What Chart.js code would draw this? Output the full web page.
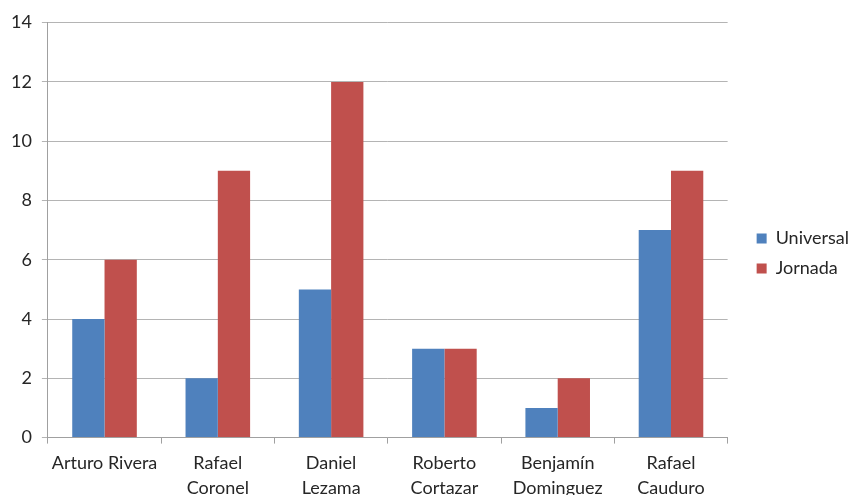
<!DOCTYPE html>
<html>
<head>
<meta charset="utf-8">
<script src="https://cdn.jsdelivr.net/npm/chart.js@4/dist/chart.umd.min.js"></script>
<style>
  html, body { margin: 0; padding: 0; background: #fff; }
  #wrap { width: 854px; height: 495px; }
</style>
</head>
<body>
<div id="wrap"><canvas id="c" width="854" height="495"></canvas></div>
<script>
// Names (two-line labels) and counts per newspaper
const categories = [
  ['Arturo Rivera'],
  ['Rafael', 'Coronel'],
  ['Daniel', 'Lezama'],
  ['Roberto', 'Cortazar'],
  ['Benjamín', 'Dominguez'],
  ['Rafael', 'Cauduro']
];
const universal = [4, 2, 5, 3, 1, 7];
const jornada = [6, 9, 12, 3, 2, 9];
const yTicks = [0, 2, 4, 6, 8, 10, 12, 14];

const FONT = { family: 'Lato, "Open Sans", sans-serif', size: 18, lineHeight: 1.4 };
const TEXT = '#262626';

// Nudge the legend: wider gap from the plot, slightly higher
const LEGEND_DX = 17;
const LEGEND_DY = -8;
const legendShift = {
  id: 'legendShift',
  afterLayout(chart) {
    const l = chart.legend;
    if (!l) return;
    l.left += LEGEND_DX;
    l.right += LEGEND_DX;
    l.top += LEGEND_DY;
    l.bottom += LEGEND_DY;
    (l.legendHitBoxes || []).forEach(h => { h.left += LEGEND_DX; h.top += LEGEND_DY; });
  }
};

new Chart(document.getElementById('c'), {
  type: 'bar',
  data: {
    labels: categories,
    datasets: [
      { label: 'Universal', data: universal, backgroundColor: '#4F81BD',
        barPercentage: 1.0, categoryPercentage: 0.57 },
      { label: 'Jornada', data: jornada, backgroundColor: '#C0504D',
        barPercentage: 1.0, categoryPercentage: 0.57 }
    ]
  },
  plugins: [legendShift],
  options: {
    responsive: false,
    animation: false,
    devicePixelRatio: 1,
    layout: { padding: { top: 15, left: 1, right: 12, bottom: -13 } },
    plugins: {
      legend: {
        position: 'right',
        labels: {
          font: FONT, color: TEXT,
          boxWidth: 10, boxHeight: 10, padding: 12
        }
      },
      tooltip: { enabled: false }
    },
    scales: {
      x: {
        offset: true,
        grid: { offset: true, drawOnChartArea: false, drawTicks: true, tickLength: 6, color: '#A0A0A0' },
        border: { color: '#A0A0A0' },
        ticks: { font: FONT, color: TEXT, padding: 7, maxRotation: 0, autoSkip: false }
      },
      y: {
        min: 0, max: 14,
        afterBuildTicks: (axis) => { axis.ticks = yTicks.map(v => ({ value: v })); },
        grid: { color: '#B4B4B4', tickLength: 6 },
        border: { color: '#A0A0A0' },
        ticks: { font: FONT, color: TEXT, padding: 10 }
      }
    }
  }
});
</script>
</body>
</html>
